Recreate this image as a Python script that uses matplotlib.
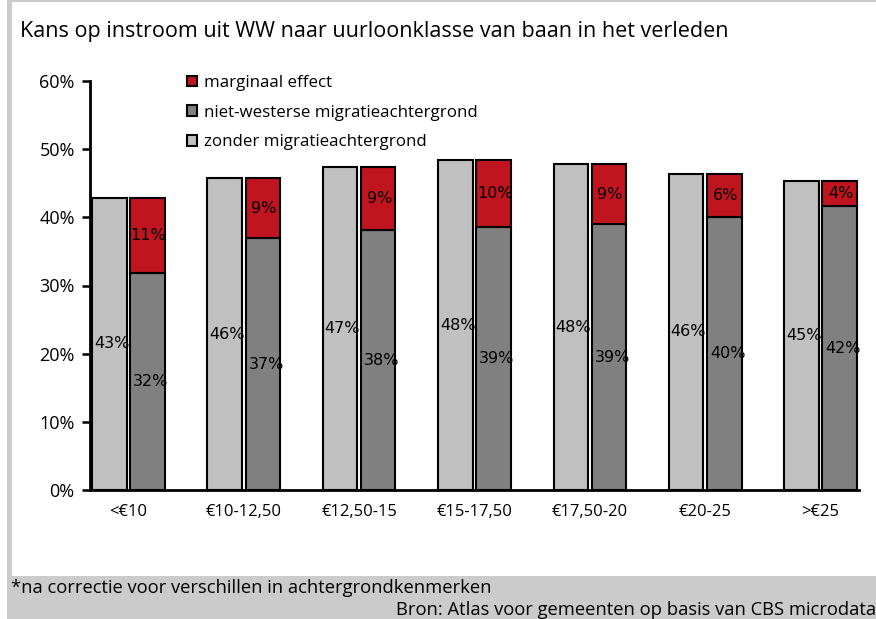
import matplotlib
matplotlib.use("Agg")
import matplotlib.pyplot as plt
from matplotlib.patches import Rectangle, Patch
import numpy as np

categories = ["<€10", "€10-12,50", "€12,50-15", "€15-17,50", "€17,50-20", "€20-25", ">€25"]
zonder = [42.9, 45.7, 47.4, 48.4, 47.8, 46.4, 45.3]          # zonder migratieachtergrond
niet_westers = [31.9, 36.9, 38.1, 38.6, 39.0, 40.0, 41.6]    # niet-westerse migratieachtergrond
marginaal = [11.0, 8.8, 9.3, 9.8, 8.8, 6.4, 3.7]             # marginaal effect
yticks = [0, 10, 20, 30, 40, 50, 60]

title = "Kans op instroom uit WW naar uurloonklasse van baan in het verleden"
footnote = "*na correctie voor verschillen in achtergrondkenmerken"
source = "Bron: Atlas voor gemeenten op basis van CBS microdata"

C_LIGHT = "#c0c0c0"
C_DARK = "#808080"
C_RED = "#c0141e"
C_FRAME = "#cbcbcb"
FONT = ["Open Sans", "DejaVu Sans"]
LABFONT = ["DejaVu Sans"]

W, H = 876, 619
fig = plt.figure(figsize=(W / 100, H / 100), dpi=100)
fig.patch.set_facecolor("white")

def px(x0, y0, w, h):
    return (x0 / W, 1 - (y0 + h) / H, w / W, h / H)

# frame pieces
for (x0, y0, w, h) in [(7, 576, W - 7, 43), (7, 0, 5, 576), (7, 0, W - 7, 1.5)]:
    r = px(x0, y0, w, h)
    fig.add_artist(Rectangle((r[0], r[1]), r[2], r[3], transform=fig.transFigure,
                             facecolor=C_FRAME, edgecolor="none", zorder=0))

ax = fig.add_axes(px(90, 81, 769, 409))
ax.set_facecolor("none")

x = np.arange(len(categories))
bw = 0.30
off = 0.165
edge = dict(edgecolor="black", linewidth=1.5)
ax.bar(x - off, zonder, bw, color=C_LIGHT, **edge, zorder=2)
ax.bar(x + off, niet_westers, bw, color=C_DARK, **edge, zorder=2)
ax.bar(x + off, marginaal, bw, bottom=niet_westers, color=C_RED, **edge, zorder=2)

for i in range(len(categories)):
    ax.text(x[i] - off + 0.02, zonder[i] / 2, f"{zonder[i]:.0f}%", ha="center", va="center",
            fontsize=11.5, family=LABFONT, zorder=3)
    ax.text(x[i] + off + 0.03, niet_westers[i] / 2, f"{niet_westers[i]:.0f}%", ha="center", va="center",
            fontsize=11.5, family=LABFONT, zorder=3)
    ax.text(x[i] + off + 0.01, niet_westers[i] + marginaal[i] / 2, f"{marginaal[i]:.0f}%",
            ha="center", va="center", fontsize=11.5, family=LABFONT, zorder=3)

ax.set_xlim(-0.333, len(categories) - 1 + 0.333)
ax.set_ylim(0, 60)
ax.set_yticks(yticks)
ax.set_yticklabels([f"{v}%" for v in yticks], family=FONT, fontsize=13)
ax.set_xticks(x)
ax.set_xticklabels(categories, family=FONT, fontsize=12)
ax.tick_params(axis="y", direction="out", length=6, width=1.8, pad=5)
ax.tick_params(axis="x", length=0, pad=10)
for s in ["top", "right"]:
    ax.spines[s].set_visible(False)
for s in ["left", "bottom"]:
    ax.spines[s].set_linewidth(2)

handles = [Patch(facecolor=C_RED, edgecolor="black", linewidth=1.5),
           Patch(facecolor=C_DARK, edgecolor="black", linewidth=1.5),
           Patch(facecolor=C_LIGHT, edgecolor="black", linewidth=1.5)]
labels = ["marginaal effect", "niet-westerse migratieachtergrond", "zonder migratieachtergrond"]
leg = fig.legend(handles, labels, loc="upper left", bbox_to_anchor=(187 / W, 1 - 75 / H),
                 frameon=False, prop={"family": FONT, "size": 12.2},
                 handlelength=0.6, handleheight=0.6, handletextpad=0.4,
                 labelspacing=0.8, borderpad=0, borderaxespad=0)

fig.text(20 / W, 1 - 32 / H, title, family=FONT, fontsize=15.5, va="center", ha="left")
fig.text(11 / W, 1 - 588 / H, footnote, family=FONT, fontsize=13.2, va="center", ha="left")
fig.text(876 / W, 1 - 610 / H, source, family=FONT, fontsize=13.2, va="center", ha="right")

fig.savefig("out.png", dpi=100)
